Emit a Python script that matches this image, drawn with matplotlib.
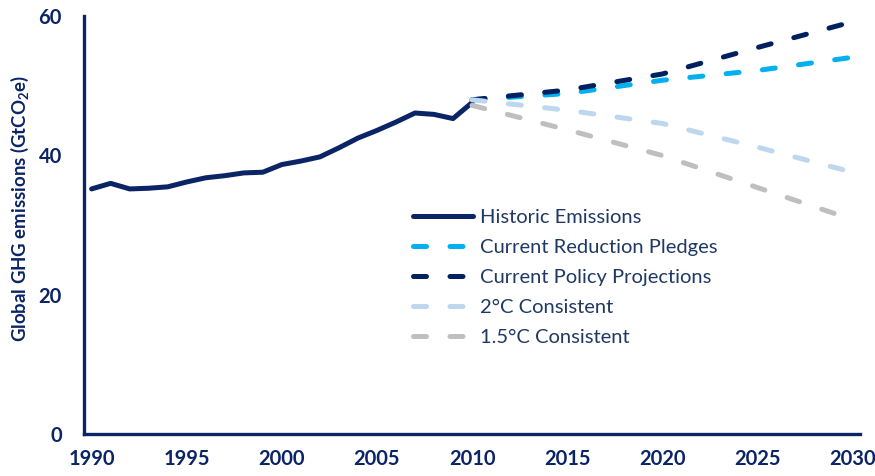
import matplotlib
matplotlib.use("Agg")
import matplotlib.pyplot as plt

# historic emissions (GtCO2e)
hist_years = list(range(1990, 2011))
hist_vals = [35.2, 36.0, 35.2, 35.3, 35.5, 36.2, 36.8, 37.1, 37.5, 37.6, 38.7,
             39.2, 39.8, 41.1, 42.5, 43.6, 44.8, 46.1, 45.9, 45.3, 47.6]

# projections
proj_years = [2010, 2015, 2020, 2025, 2030]
policy = [48.0, 49.4, 51.7, 55.5, 59.2]
pledges = [48.0, 48.9, 50.8, 52.2, 54.1]
two_deg = [48.0, 46.5, 44.6, 41.2, 37.6]
one5_deg = [47.2, 43.7, 40.0, 35.4, 30.8]

x_ticks = [1990, 1995, 2000, 2005, 2010, 2015, 2020, 2025, 2030]
y_ticks = [0, 20, 40, 60]

NAVY = "#0B2466"
TXT = "#1F3864"

plt.rcParams['font.family'] = ['Lato', 'DejaVu Sans']
plt.rcParams['mathtext.default'] = 'regular'

fig = plt.figure(figsize=(8.75, 4.76), dpi=100)
ax = fig.add_axes([0.096, 0.088, 0.887, 0.878])

lw = 3.6
dash = (0, (2.6, 4.7))
ax.plot(hist_years, hist_vals, color=NAVY, lw=lw, solid_capstyle='round',
        solid_joinstyle='round', label="Historic Emissions", zorder=2)
ax.plot(proj_years, pledges, color="#00B0F0", lw=lw, ls=dash,
        dash_capstyle='round', label="Current Reduction Pledges", zorder=3)
ax.plot(proj_years, policy, color="#002060", lw=lw, ls=dash,
        dash_capstyle='round', label="Current Policy Projections", zorder=4)
ax.plot(proj_years, one5_deg, color="#BFBFBF", lw=lw, ls=dash,
        dash_capstyle='round', label="1.5°C Consistent", zorder=5)
ax.plot(proj_years, two_deg, color="#BDD7EE", lw=lw, ls=dash,
        dash_capstyle='round', label="2°C Consistent", zorder=6)

ax.set_xlim(1989.6, 2030.4)
ax.set_ylim(0, 60)
ax.set_xticks(x_ticks)
ax.set_yticks(y_ticks)
ax.tick_params(length=0, labelsize=14.5, labelcolor=NAVY)
ax.tick_params(axis='y', pad=16)
ax.tick_params(axis='x', pad=11)
for lab in ax.get_xticklabels() + ax.get_yticklabels():
    lab.set_fontweight('bold')
for s in ['top', 'right']:
    ax.spines[s].set_visible(False)
for s in ['left', 'bottom']:
    ax.spines[s].set_color(NAVY)
    ax.spines[s].set_linewidth(2.4)

fig.text(0.023, 1 - 209 / 476, "Global GHG emissions (GtCO$_2$e)", rotation=90,
         ha='center', va='center', fontsize=13.4, fontweight='bold', color=NAVY)

handles, labels = ax.get_legend_handles_labels()
order = [0, 1, 2, 4, 3]
leg = ax.legend([handles[i] for i in order], [labels[i] for i in order],
                loc='center left', bbox_to_anchor=(0.472, 1 - 277.5 / 476),
                bbox_transform=fig.transFigure, frameon=False, fontsize=14.5,
                handlelength=3.0, handletextpad=0.35, labelspacing=0.65,
                borderpad=0, borderaxespad=0)
for t in leg.get_texts():
    t.set_color(TXT)

fig.savefig("out.png", dpi=100)
